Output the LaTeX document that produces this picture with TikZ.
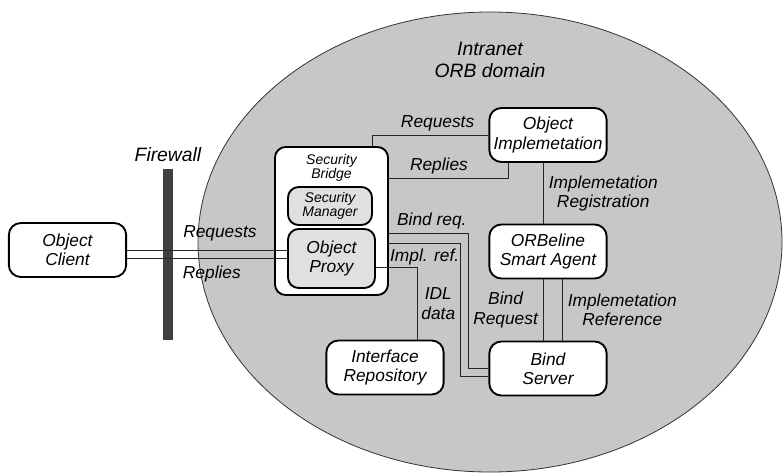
\documentclass[tikz,border=0pt]{standalone}
\usepackage{fontspec}
\setmainfont{Liberation Sans}
\usetikzlibrary{positioning}

\begin{document}
\begin{tikzpicture}[
    x=0.75pt, y=-0.75pt,
    font=\fontsize{13}{14.5}\selectfont\itshape,
    % Cajas de componentes con esquinas redondeadas
    box/.style={draw, line width=1.4pt, rounded corners=9pt, fill=white, align=center, minimum width=88pt, minimum height=40.5pt, inner sep=2pt},
    bridgebox/.style={box, rounded corners=8pt, minimum width=84.75pt, minimum height=111pt},
    inbox/.style={box, fill=black!12, rounded corners=8pt},
    smalltxt/.style={font=\fontsize{10.5}{10.5}\selectfont\itshape, align=center, inner sep=1pt},
    % Conexiones sin flechas
    link/.style={draw=black!85, line width=0.7pt},
    lbl/.style={align=center, inner sep=2pt},
    wall/.style={fill=black!75, minimum width=7.5pt, minimum height=128pt, inner sep=0pt}
]
\useasboundingbox (0,0) rectangle (784,472);

% --- Dominio ORB de la intranet ---
\draw[draw=black!80, line width=0.6pt, fill=black!22] (490,242) ellipse [x radius=219pt, y radius=172.5pt];
\node[font=\fontsize{14.5}{16}\selectfont\itshape, align=center] (domain) at (490,60) {Intranet\\ORB domain};

% --- Firewall ---
\node[wall] (fw) at (168,254.5) {};
\node[font=\fontsize{14.5}{16}\selectfont\itshape, above=2pt of fw] (fwtxt) {Firewall};

% --- Componentes ---
\node[box] (client) at (67.5,250) {Object\\Client};
\node[box] (impl) at (548,135) {Object\\Implemetation};
\node[box] (agent) at (548,251.5) {ORBeline\\Smart Agent};
\node[box] (bindsrv) at (548,368.5) {Bind\\Server};
\node[box] (repo) at (385,367.5) {Interface\\Repository};

% --- Security Bridge ---
\node[bridgebox] (bridge) at (331.5,221) {};
\node[smalltxt] (bridgetxt) at (331.5,168) {Security\\Bridge};
\node[inbox, smalltxt, minimum width=63pt, minimum height=28.5pt] (manager) at (330,206) {Security\\Manager};
\node[inbox, minimum width=65.25pt, minimum height=44.25pt] (proxy) at (331.5,258.5) {Object\\Proxy};

% --- Cliente - Proxy ---
\draw[link] (client.east) -- node[lbl, pos=0.58, above=4pt] {Requests} (client.east -| proxy.west);
\draw[link] (proxy.west -| client.east) -- node[lbl, pos=0.53, below=3pt] {Replies} (proxy.west);

% --- Bridge - Object Implemetation ---
\draw[link] (impl.west) -| node[lbl, pos=0.22, above=0.5pt] {Requests} ([xshift=-12pt]bridge.north east);
\draw[link] ([yshift=32pt]bridge.east) -| node[lbl, pos=0.21, above=0.5pt] {Replies} ([xshift=-30pt]impl.south);
\draw[link] ([xshift=-3.75pt]impl.south) -- node[lbl, right=2pt] {Implemetation\\Registration} ([xshift=-3.75pt]impl.south |- agent.north);

% --- Smart Agent - Bind Server ---
\draw[link] ([xshift=-3.75pt]agent.south) -- node[lbl, left=1.5pt] {Bind\\Request} ([xshift=-3.75pt]agent.south |- bindsrv.north);
\draw[link] ([xshift=10.5pt]agent.south) -- node[lbl, right=2pt] {Implemetation\\Reference} ([xshift=10.5pt]agent.south |- bindsrv.north);

% --- Bridge - Bind Server ---
\draw[link] ([yshift=-9pt]bridge.east) -| node[lbl, pos=0.27, above=0.5pt] {Bind req.} ([xshift=-15pt]bindsrv.west) -- (bindsrv.west);
\draw[link] ([yshift=-16.5pt]bridge.east) -| node[lbl, pos=0.25, below=2pt] {Impl. ref.} ([xshift=-21pt,yshift=-5.6pt]bindsrv.west) -- ([yshift=-5.6pt]bindsrv.west);

% --- Proxy - Interface Repository ---
\draw[link] ([yshift=-7pt]proxy.east) -| node[lbl, pos=0.75, right=1pt] {IDL\\data} ([xshift=24pt]repo.north);

\end{tikzpicture}
\end{document}
